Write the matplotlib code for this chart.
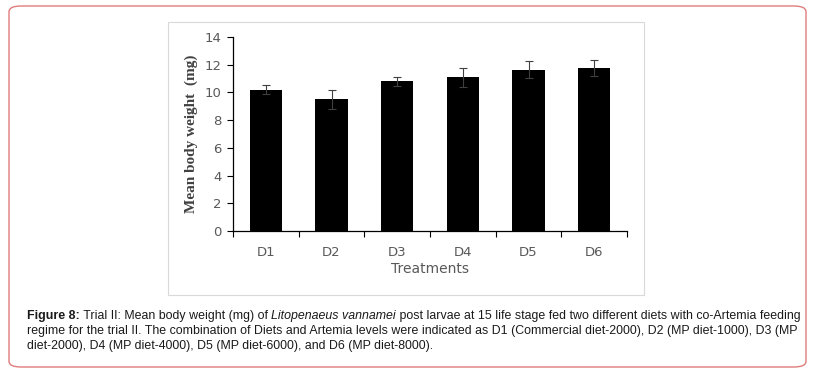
import matplotlib
matplotlib.use("Agg")
import matplotlib.pyplot as plt
from matplotlib.patches import FancyBboxPatch, Rectangle

# values
treatments = ["D1", "D2", "D3", "D4", "D5", "D6"]
mean_weight = [10.2, 9.5, 10.8, 11.1, 11.65, 11.75]
err = [0.32, 0.68, 0.3, 0.68, 0.62, 0.6]
y_ticks = [0, 2, 4, 6, 8, 10, 12, 14]

caption = [
    [("Figure 8:", "bold", "normal"),
     (" Trial II: Mean body weight (mg) of ", "normal", "normal"),
     ("Litopenaeus vannamei", "normal", "italic"),
     (" post larvae at 15 life stage fed two different diets with co-Artemia feeding", "normal", "normal")],
    [("regime for the trial II. The combination of Diets and Artemia levels were indicated as D1 (Commercial diet-2000), D2 (MP diet-1000), D3 (MP",
      "normal", "normal")],
    [("diet-2000), D4 (MP diet-4000), D5 (MP diet-6000), and D6 (MP diet-8000).", "normal", "normal")],
]

W, H = 813, 375
fig = plt.figure(figsize=(W / 100, H / 100), dpi=100)

# outer rounded box and chart frame (pixel coords -> figure fraction)
def fx(px):
    return px / W

def fy(py):
    return 1 - py / H

box = FancyBboxPatch((fx(9), fy(367)), fx(797), (367 - 6) / H,
                     boxstyle="round,pad=0,rounding_size=0.015",
                     transform=fig.transFigure, fill=False,
                     edgecolor="#e07b7b", lw=1.0)
fig.patches.append(box)
frame = Rectangle((fx(168), fy(295)), fx(644 - 168), (295 - 22) / H,
                  transform=fig.transFigure, fill=False,
                  edgecolor="#d9d9d9", lw=0.8)
fig.patches.append(frame)

ax = fig.add_axes([fx(233), fy(231), fx(627 - 233), (231 - 37) / H])
x = range(len(treatments))
ax.bar(x, mean_weight, width=0.49, color="black",
       yerr=err, error_kw=dict(ecolor="#404040", elinewidth=0.8, capsize=3, capthick=0.8))

ax.set_xlim(-0.5, len(treatments) - 0.5)
ax.set_ylim(0, 14)
ax.set_yticks(y_ticks)
ax.set_xticks(list(x))
ax.set_xticklabels(treatments)
ax.set_xticks([i - 0.5 for i in range(len(treatments) + 1)], minor=True)
ax.tick_params(axis="x", which="major", length=0, pad=11, labelsize=9.5, labelcolor="#595959")
ax.tick_params(axis="x", which="minor", length=4, width=0.8)
ax.tick_params(axis="y", length=4, width=0.8, labelsize=9.5, labelcolor="#595959", pad=4)
for s in ("top", "right"):
    ax.spines[s].set_visible(False)
ax.spines["left"].set_linewidth(0.9)
ax.spines["bottom"].set_linewidth(0.9)

ax.set_xlabel("Treatments", fontsize=10, color="#595959", labelpad=2)
ax.set_ylabel("Mean body weight  (mg)", fontsize=11, fontweight="bold",
              family="Liberation Serif", color="#404040", labelpad=5)

# caption, pieces laid out side by side
fig.canvas.draw()
renderer = fig.canvas.get_renderer()
line_y = [316, 331, 346]
for row, yy in zip(caption, line_y):
    xpos = 27
    for txt, weight, style in row:
        t = fig.text(fx(xpos), fy(yy), txt, fontsize=8.9, family="Liberation Sans",
                     fontweight=weight, fontstyle=style, color="#1a1a1a",
                     va="center", ha="left")
        bb = t.get_window_extent(renderer)
        xpos += bb.width

fig.savefig("out.png", dpi=100)
